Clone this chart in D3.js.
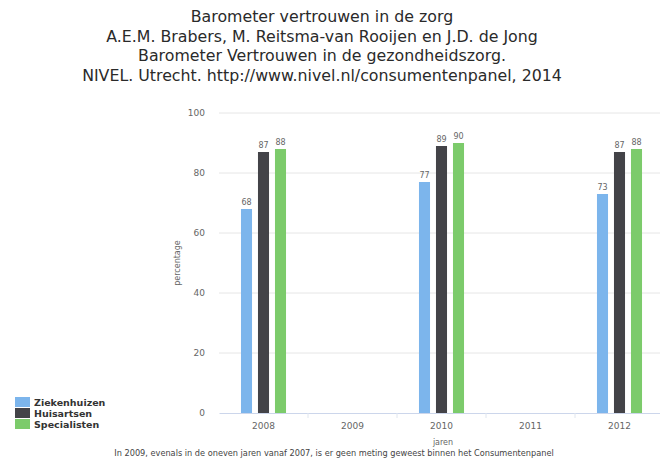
<!DOCTYPE html>
<html><head><meta charset="utf-8">
<script src="https://cdn.jsdelivr.net/npm/d3@7"></script>
<style>body{margin:0;background:#fff}svg{display:block}</style>
</head><body>
<svg id="c" width="660" height="463"></svg>
<script>
const titleLines = ["Barometer vertrouwen in de zorg","A.E.M. Brabers, M. Reitsma-van Rooijen en J.D. de Jong","Barometer Vertrouwen in de gezondheidszorg.","NIVEL. Utrecht. http://www.nivel.nl/consumentenpanel, 2014"];
const years = ["2008","2009","2010","2011","2012"];
const seriesNames = ["Ziekenhuizen","Huisartsen","Specialisten"];
const ziekenhuizen = [68, null, 77, null, 73];
const huisartsen = [87, null, 89, null, 87];
const specialisten = [88, null, 90, null, 88];
const yTicks = [0,20,40,60,80,100];
const colors = ["#7cb5ec","#434348","#7ccb6b"];
const footnote = "In 2009, evenals in de oneven jaren vanaf 2007, is er geen meting geweest binnen het Consumentenpanel";

const seriesValues = [ziekenhuizen, huisartsen, specialisten];
const svg = d3.select("#c");

svg.append("g").selectAll("text").data(titleLines).join("text")
  .attr("x", 322).attr("y", (d,i)=>22+i*19.5)
  .attr("text-anchor","middle").attr("font-family","DejaVu Sans, sans-serif")
  .attr("font-size",15.8).attr("fill","#2a2a2a").text(d=>d);

const x = d3.scaleBand().domain(years).range([219,664]);
const xs = d3.scaleBand().domain(seriesNames).range([-25.5,25.5]).paddingInner(0.35).paddingOuter(0.175);
const y = d3.scaleLinear().domain([0,100]).range([413,113]);

// grid
svg.append("g").selectAll("line").data(yTicks.filter(t=>t>0)).join("line")
  .attr("x1",219).attr("x2",664).attr("y1",d=>y(d)).attr("y2",d=>y(d))
  .attr("stroke","#e6e6e6").attr("stroke-width",1);

// y labels
const yAxis = svg.append("g").attr("transform","translate(219,0)")
  .call(d3.axisLeft(y).tickValues(yTicks).tickSize(0).tickPadding(14));
yAxis.select(".domain").remove();
yAxis.selectAll("text").attr("font-family","DejaVu Sans, sans-serif").attr("font-size",9).attr("fill","#666");

svg.append("text").attr("transform","translate(180,263) rotate(-90)")
  .attr("text-anchor","middle").attr("font-family","DejaVu Sans, sans-serif")
  .attr("font-size",8).attr("fill","#666").text("percentage");

// bars
const flat = [];
years.forEach((yr,i)=>seriesNames.forEach((s,j)=>{
  const v = seriesValues[j][i];
  if (v!=null) flat.push({yr, s, v, c: colors[j]});
}));
svg.append("g").selectAll("rect").data(flat).join("rect")
  .attr("x", d=>x(d.yr)+x.bandwidth()/2+xs(d.s))
  .attr("width", xs.bandwidth())
  .attr("y", d=>y(d.v)).attr("height", d=>y(0)-y(d.v))
  .attr("fill", d=>d.c);
svg.append("g").selectAll("text").data(flat).join("text")
  .attr("x", d=>x(d.yr)+x.bandwidth()/2+xs(d.s)+xs.bandwidth()/2)
  .attr("y", d=>y(d.v)-4).attr("text-anchor","middle")
  .attr("font-family","DejaVu Sans, sans-serif").attr("font-size",8).attr("fill","#666")
  .text(d=>d.v);

// x axis
const xAxis = svg.append("g").attr("transform","translate(0,413)")
  .call(d3.axisBottom(x).tickSize(0).tickPadding(10));
xAxis.select(".domain").attr("stroke","#ccd6eb");
xAxis.selectAll("text").attr("font-family","DejaVu Sans, sans-serif").attr("font-size",9).attr("fill","#666");
svg.append("g").selectAll("line").data(years.slice(1)).join("line")
  .attr("x1",d=>x(d)).attr("x2",d=>x(d)).attr("y1",413).attr("y2",418)
  .attr("stroke","#e0e6ef");

svg.append("text").attr("x",443).attr("y",445).attr("text-anchor","middle")
  .attr("font-family","DejaVu Sans, sans-serif").attr("font-size",8).attr("fill","#666").text("jaren");

svg.append("text").attr("x",334).attr("y",456).attr("text-anchor","middle")
  .attr("font-family","DejaVu Sans, sans-serif").attr("font-size",8.2).attr("fill","#444").text(footnote);

// legend
const lg = svg.append("g").selectAll("g").data(seriesNames).join("g")
  .attr("transform",(d,i)=>`translate(15,${397+i*11})`);
lg.append("rect").attr("width",15).attr("height",10).attr("fill",(d,i)=>colors[i]);
lg.append("text").attr("x",19).attr("y",8.5).attr("font-family","DejaVu Sans, sans-serif")
  .attr("font-size",9.5).attr("font-weight","bold").attr("fill","#333").text(d=>d);
</script>
</body></html>
